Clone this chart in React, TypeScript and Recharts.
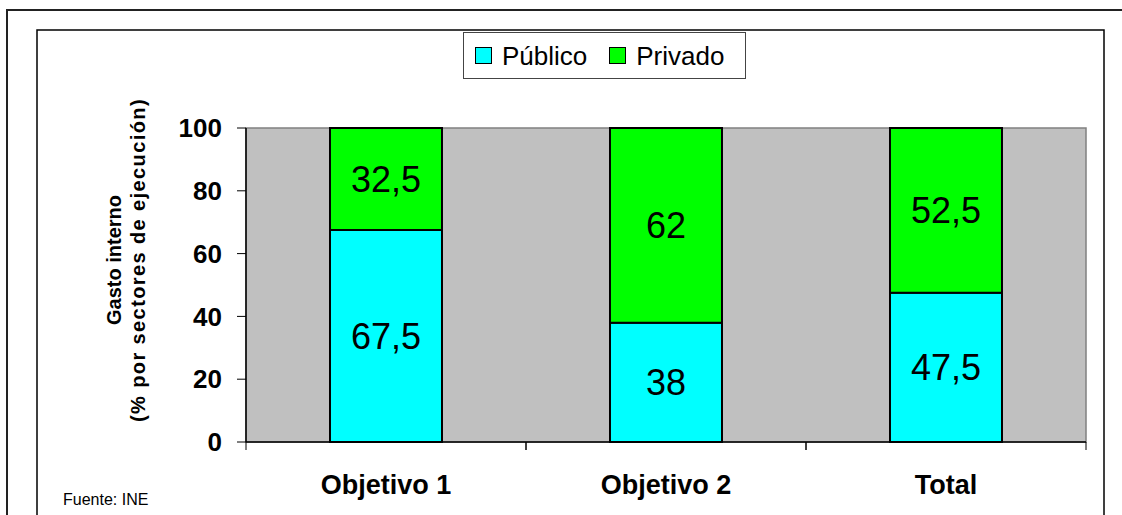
import React from 'react';
import { BarChart, Bar, XAxis, YAxis, Legend, LabelList, ReferenceArea } from 'recharts';

const categories = ['Objetivo 1', 'Objetivo 2', 'Total'];
const publicoValues = [67.5, 38, 47.5];
const privadoValues = [32.5, 62, 52.5];
const seriesNames = ['Público', 'Privado'];
const seriesColors = ['#00FFFF', '#00FF00'];
const yTicks = [0, 20, 40, 60, 80, 100];
const yTitleLines = ['Gasto interno', '(% por sectores de ejecución)'];
const sourceNote = 'Fuente: INE';

const data = categories.map((c, i) => ({
  name: c,
  publico: publicoValues[i],
  privado: privadoValues[i],
}));

const FONT = 'Arial, "Liberation Sans", sans-serif';

const fmt = (v: any) => String(v).replace('.', ',');

const CategoryTick = (props: any) => {
  const { x, y, payload, width, visibleTicksCount } = props;
  const half =
    payload && payload.offset ? payload.offset : width && visibleTicksCount ? width / visibleTicksCount / 2 : 0;
  return (
    <g>
      <line x1={x - half} y1={y - 8} x2={x - half} y2={y} stroke="#000" strokeWidth={1} />
      <line x1={x + half} y1={y - 8} x2={x + half} y2={y} stroke="#000" strokeWidth={1} />
      <text x={x} y={y + 44} textAnchor="middle" fontFamily={FONT} fontSize={27} fontWeight="bold" fill="#000">
        {payload.value}
      </text>
    </g>
  );
};

const YTitle = (props: any) => {
  const vb = props.viewBox || {};
  const cy = vb.y + vb.height / 2 - 25;
  const xs = [121, 145];
  const spacing = [0, 1.4];
  return (
    <g>
      {yTitleLines.map((t, i) => (
        <text
          key={i}
          x={xs[i]}
          y={cy}
          transform={`rotate(-90, ${xs[i]}, ${cy})`}
          textAnchor="middle"
          fontFamily={FONT}
          fontSize={20}
          fontWeight="bold"
          letterSpacing={spacing[i]}
          fill="#000"
        >
          {t}
        </text>
      ))}
    </g>
  );
};

const LegendBox = (props: any) => {
  const payload = [...(props.payload || [])].sort(
    (a: any, b: any) => seriesNames.indexOf(a.value) - seriesNames.indexOf(b.value)
  );
  return (
    <div
      style={{
        boxSizing: 'border-box',
        width: 283,
        height: 47,
        border: '1px solid #444',
        background: '#fff',
        display: 'flex',
        alignItems: 'center',
        paddingLeft: 11,
        fontFamily: FONT,
        fontSize: 26,
        color: '#000',
      }}
    >
      {payload.map((p: any, i: number) => (
        <div key={i} style={{ display: 'flex', alignItems: 'center', marginRight: 22 }}>
          <span
            style={{
              display: 'inline-block',
              boxSizing: 'border-box',
              width: 17,
              height: 17,
              background: p.color,
              border: '1.5px solid #000',
              marginRight: 10,
            }}
          />
          <span style={{ lineHeight: '30px' }}>{p.value}</span>
        </div>
      ))}
    </div>
  );
};

export default function App() {
  return (
    <div style={{ position: 'absolute', left: 0, top: 0, width: 1122, height: 515, background: '#fff', overflow: 'hidden' }}>
      <svg width={1122} height={515} style={{ position: 'absolute', left: 0, top: 0 }}>
        <rect x={7} y={10} width={1130} height={530} fill="none" stroke="#222" strokeWidth={2} />
        <rect x={37} y={30} width={1067} height={510} fill="none" stroke="#000" strokeWidth={1.5} />
        <text x={63} y={505} fontFamily={FONT} fontSize={16} fill="#000">
          {sourceNote}
        </text>
      </svg>
      <div style={{ position: 'absolute', left: 0, top: 0 }}>
        <BarChart
          width={1122}
          height={515}
          data={data}
          margin={{ top: 128, right: 36, bottom: 0, left: 0 }}
          barCategoryGap="30%"
        >
          <ReferenceArea y1={0} y2={100} fill="#C0C0C0" fillOpacity={1} stroke="#808080" strokeWidth={1.5} />
          <XAxis
            dataKey="name"
            axisLine={{ stroke: '#000', strokeWidth: 1.5 }}
            tickLine={false}
            tickSize={8}
            tickMargin={0}
            interval={0}
            height={73}
            tick={<CategoryTick />}
          />
          <YAxis
            width={246}
            domain={[0, 100]}
            ticks={yTicks}
            interval={0}
            axisLine={{ stroke: '#000', strokeWidth: 1.5 }}
            tickLine={{ stroke: '#000' }}
            tickSize={9}
            tickMargin={15}
            tick={{ fontFamily: FONT, fontSize: 26, fontWeight: 'bold', fill: '#000' }}
            label={<YTitle />}
          />
          <Legend
            layout="horizontal"
            verticalAlign="middle"
            align="center"
            wrapperStyle={{ left: 463, top: 32, width: 283, height: 47 }}
            content={<LegendBox />}
          />
          <Bar
            dataKey="publico"
            name={seriesNames[0]}
            stackId="a"
            fill={seriesColors[0]}
            stroke="#000"
            strokeWidth={2}
            isAnimationActive={false}
          >
            <LabelList dataKey="publico" position="center" formatter={fmt} fontFamily={FONT} fontSize={36} fill="#000" />
          </Bar>
          <Bar
            dataKey="privado"
            name={seriesNames[1]}
            stackId="a"
            fill={seriesColors[1]}
            stroke="#000"
            strokeWidth={2}
            isAnimationActive={false}
          >
            <LabelList dataKey="privado" position="center" formatter={fmt} fontFamily={FONT} fontSize={36} fill="#000" />
          </Bar>
        </BarChart>
      </div>
    </div>
  );
}
